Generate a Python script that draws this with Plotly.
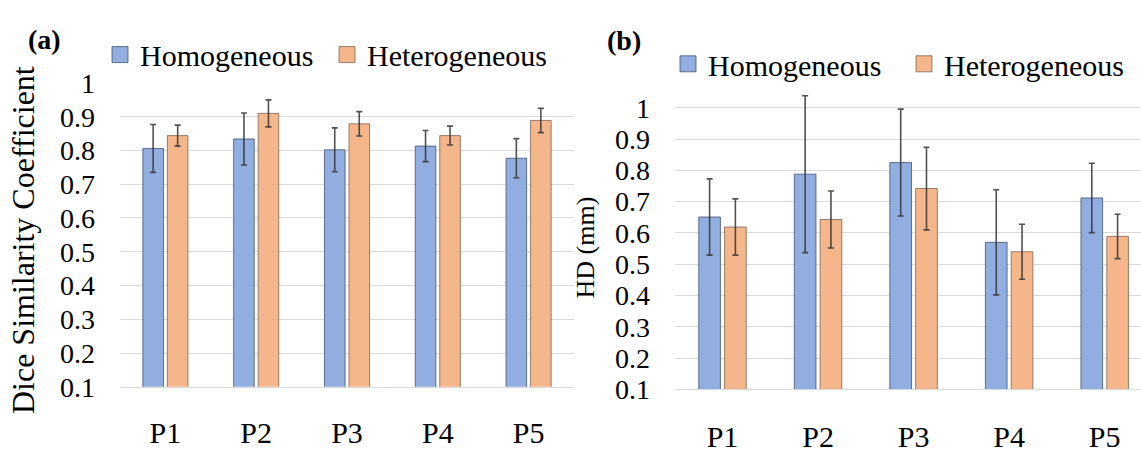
import plotly.graph_objects as go

# ---------------- data ----------------
categories = ["P1", "P2", "P3", "P4", "P5"]
series_names = ["Homogeneous", "Heterogeneous"]

dsc_homo = [0.806, 0.834, 0.802, 0.813, 0.777]
dsc_homo_err = [0.071, 0.077, 0.065, 0.046, 0.058]
dsc_het = [0.844, 0.910, 0.879, 0.844, 0.889]
dsc_het_err = [0.031, 0.040, 0.036, 0.028, 0.036]

hd_homo = [0.651, 0.788, 0.825, 0.570, 0.712]
hd_homo_err = [0.122, 0.251, 0.171, 0.168, 0.111]
hd_het = [0.619, 0.643, 0.742, 0.540, 0.589]
hd_het_err = [0.090, 0.091, 0.132, 0.088, 0.071]

y_tickvals = [0.1, 0.2, 0.3, 0.4, 0.5, 0.6, 0.7, 0.8, 0.9, 1.0]
y_ticktext = ["0.1", "0.2", "0.3", "0.4", "0.5", "0.6", "0.7", "0.8", "0.9", "1"]

# ---------------- style ----------------
W, H = 1141, 453
FONT = "Liberation Serif"
BLUE = "#92AEE0"
ORANGE = "#F5B68B"
BLUE_LINE = "rgba(60,75,105,0.75)"
ORANGE_LINE = "rgba(110,85,70,0.7)"
ERR = "rgba(50,50,50,0.85)"
GRID = "#d9d9d9"


def fx(p):
    return p / W


def fy(p):
    return 1 - p / H


def err(arr):
    return dict(type="data", array=arr, color=ERR, thickness=1.6, width=3)


fig = go.Figure()

panels = [
    ("x", "y", "legend", dsc_homo, dsc_homo_err, dsc_het, dsc_het_err),
    ("x2", "y2", "legend2", hd_homo, hd_homo_err, hd_het, hd_het_err),
]
for xa, ya, lg, homo, homo_err, het, het_err in panels:
    fig.add_trace(go.Bar(x=categories, y=homo, error_y=err(homo_err), name=series_names[0],
                         marker=dict(color=BLUE, line=dict(color=BLUE_LINE, width=1)),
                         xaxis=xa, yaxis=ya, showlegend=False))
    fig.add_trace(go.Bar(x=categories, y=het, error_y=err(het_err), name=series_names[1],
                         marker=dict(color=ORANGE, line=dict(color=ORANGE_LINE, width=1)),
                         xaxis=xa, yaxis=ya, showlegend=False))
    # legend entries (square swatches like the reference)
    for nm, col, lc in [(series_names[0], BLUE, BLUE_LINE), (series_names[1], ORANGE, ORANGE_LINE)]:
        fig.add_trace(go.Scatter(x=[None], y=[None], mode="markers", name=nm,
                                 marker=dict(symbol="square", size=16, color=col,
                                             line=dict(color=lc, width=1)),
                                 xaxis=xa, yaxis=ya, legend=lg, showlegend=True,
                                 hoverinfo="skip"))

xcommon = dict(showgrid=False, showline=True, linecolor=GRID, linewidth=1, ticks="",
               zeroline=False, tickfont=dict(family=FONT, size=30, color="black"),
               fixedrange=True, type="category")
ycommon = dict(tickvals=y_tickvals, ticktext=y_ticktext, showgrid=True, gridcolor=GRID,
               gridwidth=1, zeroline=False, showline=False, ticks="",
               tickfont=dict(family=FONT, size=28, color="black"),
               fixedrange=True)

fig.update_layout(
    width=W, height=H,
    margin=dict(l=0, r=0, t=0, b=0),
    paper_bgcolor="white", plot_bgcolor="white",
    font=dict(family=FONT, color="black"),
    barmode="group", bargap=0.46, bargroupgap=0.16,
    xaxis=dict(domain=[fx(120), fx(574)], anchor="y", range=[-0.5, 4.5],
               ticklabelstandoff=19, **xcommon),
    yaxis=dict(domain=[fy(404), fy(74)], anchor="x", range=[0.1, 1.002],
               ticklabelstandoff=24, **ycommon),
    xaxis2=dict(domain=[fx(675), 1.0], anchor="y2", range=[-0.497, 4.38],
                ticklabelstandoff=21, **xcommon),
    yaxis2=dict(domain=[fy(406.7), fy(86.5)], anchor="x2", range=[0.1, 1.045],
                ticklabelstandoff=24, **ycommon),
    legend=dict(orientation="h", x=fx(100), y=fy(44), xanchor="left", yanchor="middle",
                entrywidth=182, entrywidthmode="pixels", itemsizing="trace",
                font=dict(family=FONT, size=30, color="black"),
                bgcolor="rgba(0,0,0,0)", borderwidth=0),
    legend2=dict(orientation="h", x=fx(668), y=fy(54), xanchor="left", yanchor="middle",
                 entrywidth=191, entrywidthmode="pixels", itemsizing="trace",
                 font=dict(family=FONT, size=30, color="black"),
                 bgcolor="rgba(0,0,0,0)", borderwidth=0),
    annotations=[
        dict(text="<b>(a)</b>", x=fx(44.5), y=fy(27.5), xref="paper", yref="paper",
             xanchor="center", yanchor="middle", showarrow=False,
             font=dict(family=FONT, size=28, color="black")),
        dict(text="<b>(b)</b>", x=fx(623.5), y=fy(28.5), xref="paper", yref="paper",
             xanchor="center", yanchor="middle", showarrow=False,
             font=dict(family=FONT, size=28, color="black")),
        dict(text="Dice Similarity Coefficient", x=fx(22.5), y=fy(245.5), xref="paper",
             yref="paper", xanchor="center", yanchor="middle", showarrow=False,
             textangle=-90, font=dict(family=FONT, size=32, color="black")),
        dict(text="HD (mm)", x=fx(585), y=fy(253), xref="paper", yref="paper",
             xanchor="center", yanchor="middle", showarrow=False, textangle=-90,
             font=dict(family=FONT, size=26, color="black")),
    ],
)

fig.write_html("out.html")
